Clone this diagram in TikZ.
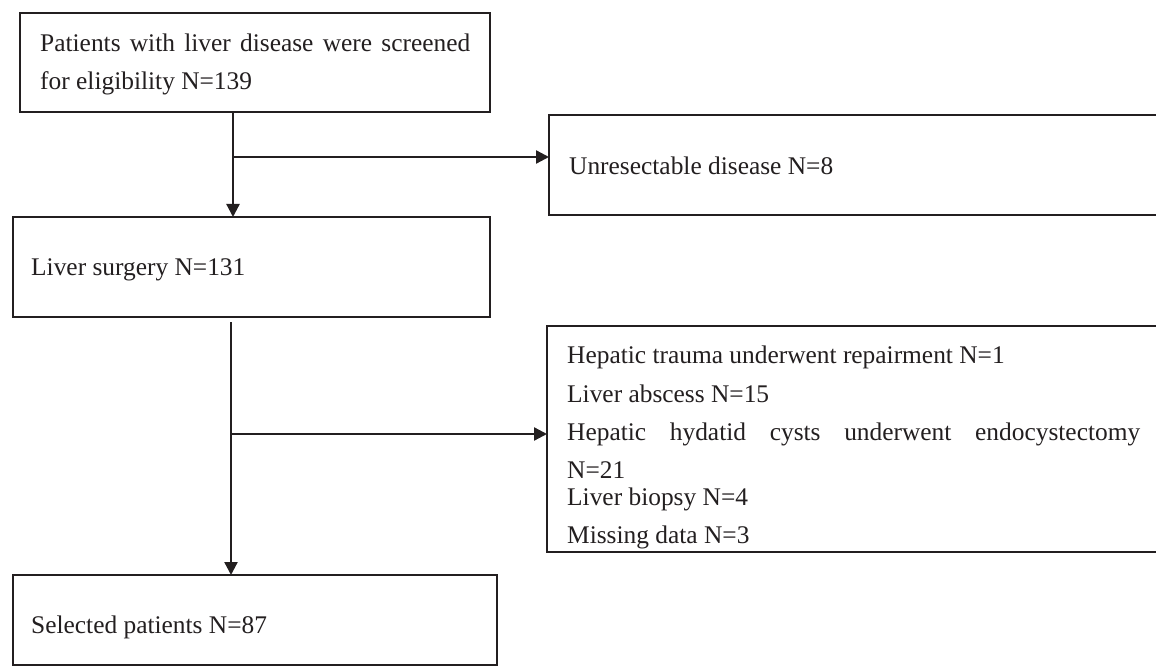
\documentclass[tikz,border=0pt]{standalone}
\usepackage{fontspec}
\setmainfont{Liberation Serif}
\usetikzlibrary{arrows.meta}
\definecolor{ink}{RGB}{35,31,32}
\tikzset{
  box/.style={draw=ink, line width=2.6pt, anchor=north west, inner sep=0pt, outer sep=0pt},
  txt/.style={text=ink, inner sep=0pt, anchor=base west, font=\fontsize{25.4}{30}\selectfont},
  arr/.style={draw=ink, line width=2.3pt, -{Triangle[length=13pt,width=13pt]}},
  plain/.style={draw=ink, line width=2.3pt}
}
\begin{document}
\begin{tikzpicture}[x=1pt,y=-1pt]
\clip (0,0) rectangle (1156,668);
\fill[white] (0,0) rectangle (1156,668);
% boxes
\node[box, minimum width=470pt, minimum height=99pt] (b1) at (20,13) {};
\node[box, minimum width=640pt, minimum height=100pt] (b2) at (549,115) {};
\node[box, minimum width=477pt, minimum height=100pt] (b3) at (13,217) {};
\node[box, minimum width=640pt, minimum height=226pt] (b4) at (547,326) {};
\node[box, minimum width=484pt, minimum height=90pt] (b5) at (13,575) {};
% texts
\node[txt] (t1a) at (40,52) {\makebox[430pt][s]{Patients with liver disease were screened}};
\node[txt] (t1b) at (40,90) {for eligibility N=139};
\node[txt] (t2) at (569,175) {Unresectable disease N=8};
\node[txt] (t3) at (31,276) {Liver surgery N=131};
\node[txt] (t4a) at (567,363) {Hepatic trauma underwent repairment N=1};
\node[txt] (t4b) at (567,402) {Liver abscess N=15};
\node[txt] (t4c) at (567,440) {\makebox[573pt][s]{Hepatic hydatid cysts underwent endocystectomy}};
\node[txt] (t4d) at (567,478) {N=21};
\node[txt] (t4e) at (567,505) {Liver biopsy N=4};
\node[txt] (t4f) at (567,543) {Missing data N=3};
\node[txt] (t5) at (31,633) {Selected patients N=87};
% connectors
\coordinate (j1) at (233,157);
\draw[arr] (j1 |- b1.south) -- (j1 |- b3.north);
\draw[arr] (j1) -- (j1 -| b2.west);
\coordinate (s2) at (231,322);
\coordinate (j2) at (231,434);
\draw[arr] (s2) -- (s2 |- b5.north);
\draw[arr] (j2) -- (j2 -| b4.west);
\end{tikzpicture}
\end{document}
